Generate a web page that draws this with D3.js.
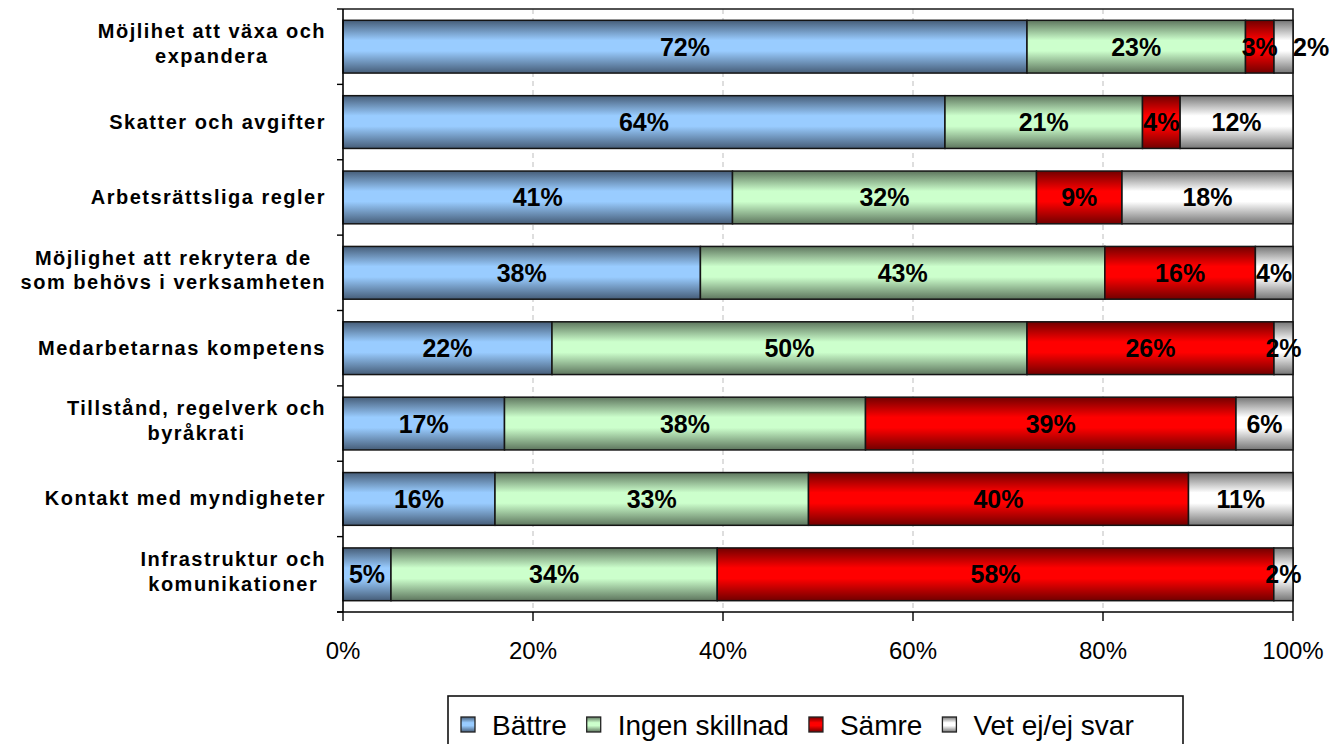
<!DOCTYPE html>
<html><head><meta charset="utf-8">
<script src="https://cdn.jsdelivr.net/npm/d3@7"></script>
<style>
html,body{margin:0;padding:0;background:#fff;}
svg{display:block;font-family:"Liberation Sans",Arial,sans-serif;}
</style></head>
<body><svg id="chart" width="1340" height="744"></svg>
<script>
const categories = [
  "Möjlihet att växa och\nexpandera",
  "Skatter och avgifter",
  "Arbetsrättsliga regler",
  "Möjlighet att rekrytera de\nsom behövs i verksamheten",
  "Medarbetarnas kompetens",
  "Tillstånd, regelverk och\nbyråkrati",
  "Kontakt med myndigheter",
  "Infrastruktur och\nkomunikationer"
];
const seriesNames = ["Bättre", "Ingen skillnad", "Sämre", "Vet ej/ej svar"];
const battre = [72, 64, 41, 38, 22, 17, 16, 5];
const ingenSkillnad = [23, 21, 32, 43, 50, 38, 33, 34];
const samre = [3, 4, 9, 16, 26, 39, 40, 58];
const vetEj = [2, 12, 18, 4, 2, 6, 11, 2];
const xTicks = [0, 0.2, 0.4, 0.6, 0.8, 1];

const seriesValues = [battre, ingenSkillnad, samre, vetEj];
const keys = ["s0", "s1", "s2", "s3"];
const rows = categories.map((c, i) => {
  const r = {cat: c};
  keys.forEach((k, j) => r[k] = seriesValues[j][i]);
  return r;
});

const gradColors = [
  {light: "#99ccff", dark: "#465d78"},
  {light: "#ccffcc", dark: "#5e765e"},
  {light: "#ff0000", dark: "#720000"},
  {light: "#ffffff", dark: "#767676"}
];

const svg = d3.select("#chart");
const defs = svg.append("defs");
gradColors.forEach((g, i) => {
  const lg = defs.append("linearGradient").attr("id", "g" + i)
    .attr("x1", 0).attr("y1", 0).attr("x2", 0).attr("y2", 1);
  lg.append("stop").attr("offset", "0%").attr("stop-color", g.dark);
  lg.append("stop").attr("offset", "38%").attr("stop-color", g.light);
  lg.append("stop").attr("offset", "58%").attr("stop-color", g.light);
  lg.append("stop").attr("offset", "100%").attr("stop-color", g.dark);
});

const L = 343, R = 1293, T = 9, B = 612;
const x = d3.scaleLinear().domain([0, 1]).range([L, R]);
const y = d3.scaleBand().domain(d3.range(categories.length)).range([T, B])
  .paddingInner(0.3).paddingOuter(0.15);

// gridlines
svg.append("g").selectAll("line").data(xTicks.filter(t => t > 0 && t < 1)).join("line")
  .attr("x1", d => x(d)).attr("x2", d => x(d)).attr("y1", T).attr("y2", B)
  .attr("stroke", "#c8c8c8").attr("stroke-width", 1.2).attr("stroke-dasharray", "5,4");

// plot border top & right
svg.append("path").attr("d", `M${L},${T}H${R}V${B}`).attr("fill", "none")
  .attr("stroke", "#1a1a1a").attr("stroke-width", 1.6);

const stack = d3.stack().keys(keys).offset(d3.stackOffsetExpand);
const stacked = stack(rows);

const gBars = svg.append("g");
stacked.forEach((layer, si) => {
  gBars.append("g").selectAll("rect").data(layer).join("rect")
    .attr("x", d => x(d[0]))
    .attr("width", d => x(d[1]) - x(d[0]))
    .attr("y", (d, i) => y(i))
    .attr("height", y.bandwidth())
    .attr("fill", `url(#g${si})`)
    .attr("stroke", "#141414").attr("stroke-width", 1.5);
});

// axes
const ax = svg.append("g");
ax.append("line").attr("x1", L).attr("x2", L).attr("y1", T).attr("y2", B)
  .attr("stroke", "#000").attr("stroke-width", 1.6);
const bounds = d3.range(categories.length + 1).map(i => T + i * y.step());
ax.selectAll(".yt").data(bounds).join("line")
  .attr("x1", L - 6).attr("x2", L).attr("y1", d => d).attr("y2", d => d)
  .attr("stroke", "#000").attr("stroke-width", 1.4);
ax.append("line").attr("x1", L - 6).attr("x2", R).attr("y1", B).attr("y2", B)
  .attr("stroke", "#000").attr("stroke-width", 1.6);
ax.selectAll(".xt").data(xTicks).join("line")
  .attr("x1", d => x(d)).attr("x2", d => x(d)).attr("y1", B).attr("y2", B + 9)
  .attr("stroke", "#000").attr("stroke-width", 1.4);
ax.selectAll(".xl").data(xTicks).join("text")
  .attr("x", d => x(d)).attr("y", 659).attr("text-anchor", "middle")
  .attr("font-size", 24).attr("fill", "#000")
  .text(d3.format(".0%"));

// category labels
const gCat = svg.append("g");
categories.forEach((c, i) => {
  const lines = c.split("\n");
  const cy = y(i) + y.bandwidth() / 2;
  const lh = 24.5;
  const g = gCat.append("g");
  const texts = lines.map((ln, k) => g.append("text")
    .attr("y", cy + 6.5 + (k - (lines.length - 1) / 2) * lh - (lines.length > 1 ? 2.5 : 0))
    .attr("font-size", 20).attr("font-weight", "bold").attr("letter-spacing", 1.5)
    .attr("text-anchor", "middle").attr("fill", "#000").text(ln));
  const widths = texts.map(t => t.node().getComputedTextLength());
  const maxW = d3.max(widths);
  const cx = 326 - maxW / 2;
  texts.forEach(t => t.attr("x", cx));
});

// data labels
const gLab = svg.append("g");
rows.forEach((r, i) => {
  const cy = y(i) + y.bandwidth() / 2;
  let prevRight = -Infinity;
  stacked.forEach((layer, si) => {
    const d = layer[i];
    const x0 = x(d[0]), x1 = x(d[1]);
    const t = gLab.append("text").attr("font-size", 25).attr("font-weight", "bold")
      .attr("fill", "#000").attr("y", cy + 9).text(seriesValues[si][i] + "%");
    const w = t.node().getComputedTextLength();
    let cx = (x0 + x1) / 2;
    if (si === keys.length - 1 && cx - w / 2 < prevRight) cx = x1 + w / 2;
    t.attr("x", cx).attr("text-anchor", "middle");
    prevRight = cx + w / 2;
  });
});

// legend
const lg = svg.append("g");
lg.append("rect").attr("x", 448).attr("y", 696).attr("width", 735).attr("height", 70)
  .attr("fill", "#fff").attr("stroke", "#111").attr("stroke-width", 1.6);
let lx = 461;
seriesNames.forEach((n, i) => {
  lg.append("rect").attr("x", lx).attr("y", 717).attr("width", 14).attr("height", 15)
    .attr("fill", `url(#g${i})`).attr("stroke", "#222").attr("stroke-width", 1.3);
  const t = lg.append("text").attr("x", lx + 31).attr("y", 735).attr("font-size", 28)
    .attr("fill", "#000").text(n);
  lx = lx + 31 + t.node().getComputedTextLength() + 20;
});
</script></body></html>
